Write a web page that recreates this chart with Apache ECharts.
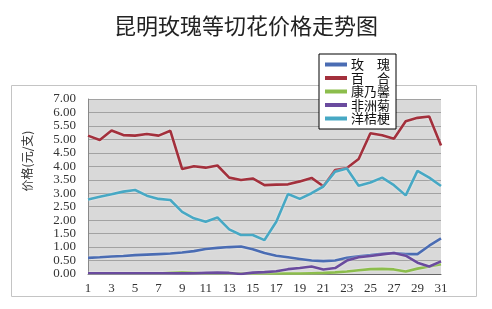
<!DOCTYPE html>
<html>
<head>
<meta charset="utf-8">
<script src="https://cdn.jsdelivr.net/npm/echarts@6/dist/echarts.min.js"></script>
<style>html,body{margin:0;padding:0;background:#fff}#c{width:492px;height:309px}</style>
</head>
<body>
<div id="c"></div>
<script>
var days = [];
for (var d = 1; d <= 31; d++) days.push(String(d));

var seriesNames = ['玫瑰', '百合', '康乃馨', '非洲菊', '洋桔梗'];

var rose = [0.60,0.62,0.65,0.67,0.70,0.72,0.74,0.76,0.80,0.85,0.93,0.97,1.00,1.02,0.92,0.78,0.68,0.62,0.56,0.50,0.48,0.50,0.60,0.66,0.70,0.75,0.78,0.74,0.74,1.05,1.32];
var lily = [5.14,4.98,5.33,5.16,5.14,5.20,5.14,5.32,3.90,4.00,3.95,4.03,3.58,3.49,3.55,3.30,3.32,3.33,3.44,3.57,3.26,3.86,3.94,4.27,5.23,5.15,5.02,5.67,5.80,5.85,4.77];
var carnation = [0.02,0.02,0.02,0.02,0.02,0.02,0.02,0.04,0.06,0.04,0.02,0.02,0.02,0.02,0.02,0.02,0.02,0.02,0.02,0.03,0.04,0.06,0.09,0.14,0.18,0.19,0.17,0.09,0.20,0.28,0.36];
var gerbera = [0.03,0.03,0.03,0.03,0.03,0.03,0.03,0.03,0.03,0.03,0.04,0.05,0.04,0.00,0.05,0.07,0.10,0.18,0.22,0.28,0.17,0.22,0.50,0.62,0.67,0.73,0.78,0.68,0.42,0.28,0.47];
var lisianthus = [2.77,2.87,2.96,3.06,3.12,2.91,2.79,2.75,2.31,2.07,1.94,2.10,1.66,1.45,1.45,1.26,1.94,2.97,2.79,3.00,3.25,3.80,3.92,3.28,3.40,3.58,3.30,2.92,3.83,3.58,3.27];

var yTickLabels = ['0.00','0.50','1.00','1.50','2.00','2.50','3.00','3.50','4.00','4.50','5.00','5.50','6.00','7.00'];

var colors = ['#4a6cb3', '#a3303c', '#8cbd4c', '#6a4b9e', '#47a8c4'];
var values = [rose, lily, carnation, gerbera, lisianthus];

var chart = echarts.init(document.getElementById('c'), null, {renderer: 'canvas'});

var series = seriesNames.map(function (n, i) {
  return {
    name: n,
    type: 'line',
    data: values[i],
    showSymbol: false,
    symbol: 'none',
    smooth: false,
    lineStyle: {width: 2.6, color: colors[i], shadowColor: 'rgba(255,255,255,0.6)', shadowBlur: 2},
    itemStyle: {color: colors[i]},
    z: 3
  };
});

chart.setOption({
  animation: false,
  color: colors,
  title: {
    text: '昆明玫瑰等切花价格走势图',
    left: 'center',
    top: 10,
    textStyle: {fontFamily: 'Noto Sans CJK SC', fontSize: 22, fontWeight: 'normal', color: '#222'}
  },
  graphic: [
    {type: 'rect', shape: {x: 11.5, y: 85.5, width: 465, height: 211}, style: {fill: 'none', stroke: '#c4c4c4', lineWidth: 1}, z: -10, silent: true},
    {type: 'text', x: 27, y: 161, rotation: Math.PI / 2, style: {text: '价格(元/支)', fontFamily: 'Noto Sans CJK SC', fontSize: 12, fill: '#333', align: 'center', verticalAlign: 'middle'}}
  ],
  legend: {
    orient: 'vertical',
    left: 319,
    top: 54,
    padding: [4, 6, 4, 6],
    itemGap: 0.5,
    itemWidth: 22,
    itemHeight: 4,
    icon: 'rect',
    backgroundColor: '#fff',
    borderColor: '#000',
    borderWidth: 1,
    z: 10,
    formatter: function (name) { return name.length === 2 ? name[0] + '\u3000' + name[1] : name; },
    textStyle: {fontFamily: 'Noto Sans CJK SC', fontSize: 13, lineHeight: 13, color: '#111', padding: [0, 0, 0, -1]},
    data: seriesNames
  },
  grid: {
    left: 88, right: 51, top: 99, bottom: 35,
    show: true, backgroundColor: '#d9d9d9', borderWidth: 0
  },
  xAxis: {
    type: 'category',
    data: days,
    boundaryGap: false,
    axisLine: {lineStyle: {color: '#666', width: 1}},
    axisTick: {show: false},
    axisLabel: {interval: 1, margin: 8, fontFamily: 'Liberation Serif', fontSize: 13, color: '#333'}
  },
  yAxis: {
    type: 'value',
    min: 0, max: 6.5, interval: 0.5,
    axisLine: {show: true, lineStyle: {color: '#888'}},
    axisTick: {show: false},
    splitLine: {lineStyle: {color: '#a2a2a2', width: 1}},
    axisLabel: {
      margin: 12,
      fontFamily: 'Liberation Serif', fontSize: 13, color: '#333',
      formatter: function (v) { var k = Math.round(v / 0.5); return yTickLabels[k] || ''; }
    }
  },
  series: series
});
</script>
</body>
</html>
